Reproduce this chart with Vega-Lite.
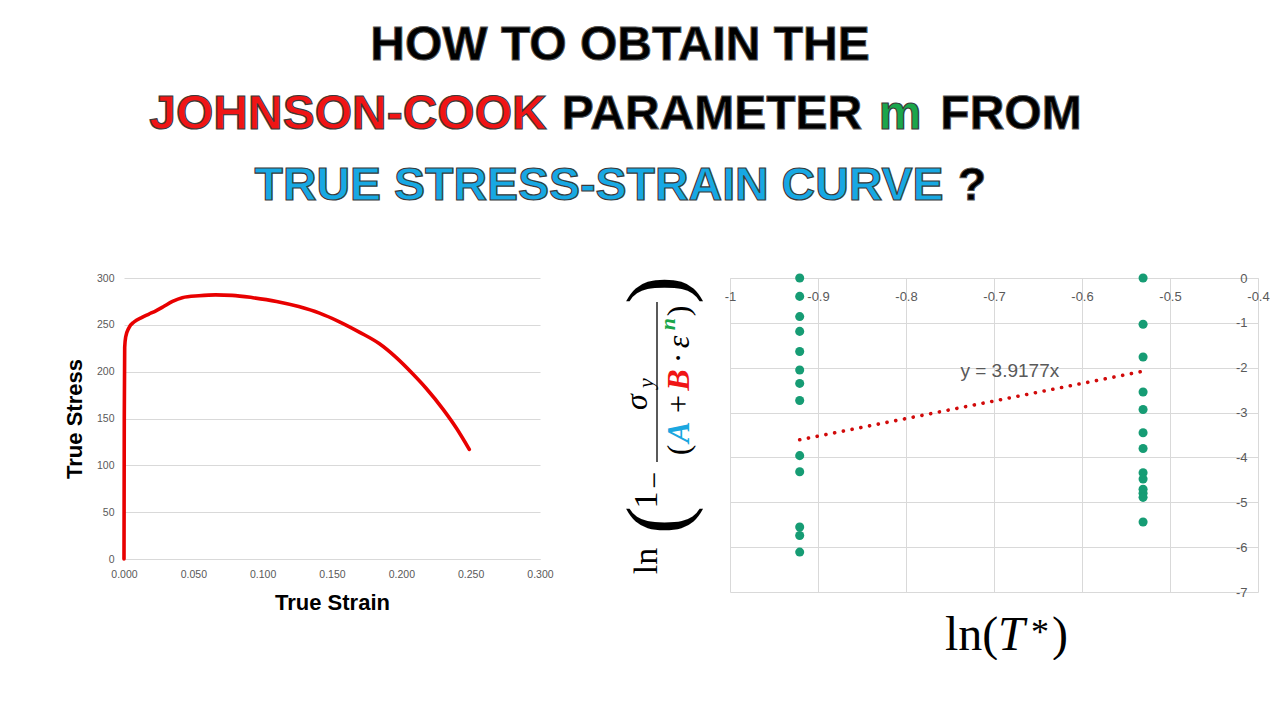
{
  "$schema": "https://vega.github.io/schema/vega-lite/v6.json",
  "background": "white",
  "padding": {"left": 63, "top": 22, "right": 0, "bottom": 0},
  "spacing": 190,
  "bounds": "flush",
  "config": {
    "view": {"stroke": null},
    "font": "Liberation Sans",
    "axis": {"labelFont": "Liberation Sans", "titleFont": "Liberation Sans"}
  },
  "hconcat": [
    {
      "width": 416,
      "height": 281,
      "layer": [
        {
          "data": {"values": [
            {"strain": 0, "stress": 0},
            {"strain": 0.0002, "stress": 150},
            {"strain": 0.0005, "stress": 226},
            {"strain": 0.0012, "stress": 237},
            {"strain": 0.0036, "stress": 247},
            {"strain": 0.0072, "stress": 253},
            {"strain": 0.013, "stress": 258},
            {"strain": 0.018, "stress": 261.5},
            {"strain": 0.023, "stress": 265},
            {"strain": 0.028, "stress": 269},
            {"strain": 0.035, "stress": 275},
            {"strain": 0.042, "stress": 279},
            {"strain": 0.054, "stress": 281},
            {"strain": 0.066, "stress": 282},
            {"strain": 0.078, "stress": 281.5},
            {"strain": 0.093, "stress": 279},
            {"strain": 0.110, "stress": 275},
            {"strain": 0.126, "stress": 269.5},
            {"strain": 0.141, "stress": 262.5},
            {"strain": 0.155, "stress": 253.5},
            {"strain": 0.170, "stress": 242},
            {"strain": 0.184, "stress": 230},
            {"strain": 0.196, "stress": 215.5},
            {"strain": 0.208, "stress": 198},
            {"strain": 0.218, "stress": 182},
            {"strain": 0.230, "stress": 160},
            {"strain": 0.240, "stress": 139},
            {"strain": 0.249, "stress": 117}
          ]},
          "mark": {"type": "line", "color": "#e80000", "strokeWidth": 3.6, "strokeCap": "round", "strokeJoin": "round", "interpolate": "monotone"},
          "encoding": {
            "x": {
              "field": "strain", "type": "quantitative",
              "scale": {"domain": [0, 0.3], "nice": false},
              "axis": {
                "values": [0, 0.05, 0.1, 0.15, 0.2, 0.25, 0.3], "format": ".3f",
                "title": "True Strain", "grid": false, "ticks": false, "tickSize": 0,
                "domain": true, "domainColor": "#d9d9d9", "domainWidth": 1,
                "labelColor": "#595959", "labelFontSize": 10.5, "labelPadding": 10,
                "labelOverlap": false, "labelFlush": false,
                "titleFontSize": 22, "titleFontWeight": "bold", "titleColor": "#000000", "titlePadding": 13
              }
            },
            "y": {
              "field": "stress", "type": "quantitative",
              "scale": {"domain": [0, 300], "nice": false},
              "axis": {
                "values": [0, 50, 100, 150, 200, 250, 300],
                "title": "True Stress", "grid": true, "gridColor": "#d9d9d9", "ticks": false, "tickSize": 0,
                "domain": false,
                "labelColor": "#595959", "labelFontSize": 10.5, "labelPadding": 10,
                "titleFontSize": 22, "titleFontWeight": "bold", "titleColor": "#000000", "titlePadding": 10
              }
            }
          }
        },
        {
          "data": {"values": [{"t": "HOW TO OBTAIN THE"}]},
          "mark": {"type": "text", "x": 496, "y": -218, "align": "center", "baseline": "alphabetic", "font": "Liberation Sans", "fontSize": 48, "fontWeight": "bold", "fill": "#000000", "stroke": "#555555", "strokeWidth": 1},
          "encoding": {"text": {"field": "t"}}
        },
        {
          "data": {"values": [{"t": "JOHNSON-COOK"}]},
          "mark": {"type": "text", "x": 224, "y": -149, "align": "center", "baseline": "alphabetic", "font": "Liberation Sans", "fontSize": 48, "fontWeight": "bold", "fill": "#f01515", "stroke": "#3a3a3a", "strokeWidth": 1.2},
          "encoding": {"text": {"field": "t"}}
        },
        {
          "data": {"values": [{"t": "PARAMETER"}]},
          "mark": {"type": "text", "x": 588, "y": -149, "align": "center", "baseline": "alphabetic", "font": "Liberation Sans", "fontSize": 48, "fontWeight": "bold", "fill": "#000000", "stroke": "#555555", "strokeWidth": 1},
          "encoding": {"text": {"field": "t"}}
        },
        {
          "data": {"values": [{"t": "m"}]},
          "mark": {"type": "text", "x": 776, "y": -149, "align": "center", "baseline": "alphabetic", "font": "Liberation Sans", "fontSize": 48, "fontWeight": "bold", "fill": "#1aa64b", "stroke": "#3a3a3a", "strokeWidth": 1.2},
          "encoding": {"text": {"field": "t"}}
        },
        {
          "data": {"values": [{"t": "FROM"}]},
          "mark": {"type": "text", "x": 887, "y": -149, "align": "center", "baseline": "alphabetic", "font": "Liberation Sans", "fontSize": 48, "fontWeight": "bold", "fill": "#000000", "stroke": "#555555", "strokeWidth": 1},
          "encoding": {"text": {"field": "t"}}
        },
        {
          "data": {"values": [{"t": "TRUE STRESS-STRAIN CURVE"}]},
          "mark": {"type": "text", "x": 475, "y": -78, "align": "center", "baseline": "alphabetic", "font": "Liberation Sans", "fontSize": 46.5, "fontWeight": "bold", "fill": "#17a8e3", "stroke": "#3a3a3a", "strokeWidth": 1.2},
          "encoding": {"text": {"field": "t"}}
        },
        {
          "data": {"values": [{"t": "?"}]},
          "mark": {"type": "text", "x": 848, "y": -78, "align": "center", "baseline": "alphabetic", "font": "Liberation Sans", "fontSize": 46.5, "fontWeight": "bold", "fill": "#000000", "stroke": "#555555", "strokeWidth": 1},
          "encoding": {"text": {"field": "t"}}
        }
      ]
    },
    {
      "width": 528,
      "height": 314,
      "layer": [
        {
          "data": {"values": [
            {"x": -0.9208, "y": 0},
            {"x": -0.9208, "y": -0.41},
            {"x": -0.9208, "y": -0.86},
            {"x": -0.9208, "y": -1.19},
            {"x": -0.9208, "y": -1.64},
            {"x": -0.9208, "y": -2.05},
            {"x": -0.9208, "y": -2.35},
            {"x": -0.9208, "y": -2.73},
            {"x": -0.9208, "y": -3.96},
            {"x": -0.9208, "y": -4.32},
            {"x": -0.9208, "y": -5.55},
            {"x": -0.9208, "y": -5.74},
            {"x": -0.9208, "y": -6.11},
            {"x": -0.5306, "y": 0},
            {"x": -0.5306, "y": -1.03},
            {"x": -0.5306, "y": -1.76},
            {"x": -0.5306, "y": -2.54},
            {"x": -0.5306, "y": -2.93},
            {"x": -0.5306, "y": -3.45},
            {"x": -0.5306, "y": -3.80},
            {"x": -0.5306, "y": -4.34},
            {"x": -0.5306, "y": -4.48},
            {"x": -0.5306, "y": -4.71},
            {"x": -0.5306, "y": -4.80},
            {"x": -0.5306, "y": -4.89},
            {"x": -0.5306, "y": -5.44}
          ]},
          "mark": {"type": "circle", "size": 82, "color": "#169c74", "opacity": 1},
          "encoding": {
            "x": {
              "field": "x", "type": "quantitative",
              "scale": {"domain": [-1, -0.4], "nice": false, "zero": false},
              "axis": {
                "orient": "top", "values": [-1, -0.9, -0.8, -0.7, -0.6, -0.5, -0.4],
                "labelExpr": "datum.value < 0 ? '-' + format(-datum.value, '.1~f') : '0'",
                "title": null, "grid": true, "gridColor": "#d9d9d9", "ticks": false, "tickSize": 0,
                "domain": true, "domainColor": "#d9d9d9",
                "labelColor": "#595959", "labelFontSize": 13, "labelPadding": -18, "labelBaseline": "middle",
                "labelOverlap": false, "labelFlush": false
              }
            },
            "y": {
              "field": "y", "type": "quantitative",
              "scale": {"domain": [-7, 0], "nice": false, "zero": false},
              "axis": {
                "orient": "right", "values": [0, -1, -2, -3, -4, -5, -6, -7],
                "labelExpr": "datum.value < 0 ? '-' + format(-datum.value, '~g') : '0'",
                "title": null, "grid": true, "gridColor": "#d9d9d9", "ticks": false, "tickSize": 0,
                "domain": false,
                "labelColor": "#595959", "labelFontSize": 13, "labelPadding": -11, "labelAlign": "right",
                "labelBaseline": "middle", "labelOverlap": false, "labelFlush": false
              }
            }
          }
        },
        {
          "data": {"values": [
            {"x": -0.9208, "y": -3.607},
            {"x": -0.5306, "y": -2.079}
          ]},
          "mark": {"type": "line", "color": "#d10a0a", "strokeWidth": 3.6, "strokeCap": "round", "strokeDash": [0.1, 8.8]},
          "encoding": {
            "x": {
              "field": "x", "type": "quantitative",
              "scale": {"domain": [-1, -0.4], "nice": false, "zero": false},
              "axis": {
                "orient": "top", "values": [-1, -0.9, -0.8, -0.7, -0.6, -0.5, -0.4],
                "labelExpr": "datum.value < 0 ? '-' + format(-datum.value, '.1~f') : '0'",
                "title": null, "grid": true, "gridColor": "#d9d9d9", "ticks": false, "tickSize": 0,
                "domain": true, "domainColor": "#d9d9d9",
                "labelColor": "#595959", "labelFontSize": 13, "labelPadding": -18, "labelBaseline": "middle",
                "labelOverlap": false, "labelFlush": false
              }
            },
            "y": {
              "field": "y", "type": "quantitative",
              "scale": {"domain": [-7, 0], "nice": false, "zero": false},
              "axis": {
                "orient": "right", "values": [0, -1, -2, -3, -4, -5, -6, -7],
                "labelExpr": "datum.value < 0 ? '-' + format(-datum.value, '~g') : '0'",
                "title": null, "grid": true, "gridColor": "#d9d9d9", "ticks": false, "tickSize": 0,
                "domain": false,
                "labelColor": "#595959", "labelFontSize": 13, "labelPadding": -11, "labelAlign": "right",
                "labelBaseline": "middle", "labelOverlap": false, "labelFlush": false
              }
            }
          }
        },
        {
          "data": {"values": [{"x": -0.682, "y": -2.07, "t": "y = 3.9177x"}]},
          "mark": {"type": "text", "align": "center", "baseline": "middle", "fontSize": 19, "color": "#595959", "font": "Liberation Sans"},
          "encoding": {
            "x": {
              "field": "x", "type": "quantitative",
              "scale": {"domain": [-1, -0.4], "nice": false, "zero": false},
              "axis": {
                "orient": "top", "values": [-1, -0.9, -0.8, -0.7, -0.6, -0.5, -0.4],
                "labelExpr": "datum.value < 0 ? '-' + format(-datum.value, '.1~f') : '0'",
                "title": null, "grid": true, "gridColor": "#d9d9d9", "ticks": false, "tickSize": 0,
                "domain": true, "domainColor": "#d9d9d9",
                "labelColor": "#595959", "labelFontSize": 13, "labelPadding": -18, "labelBaseline": "middle",
                "labelOverlap": false, "labelFlush": false
              }
            },
            "y": {
              "field": "y", "type": "quantitative",
              "scale": {"domain": [-7, 0], "nice": false, "zero": false},
              "axis": {
                "orient": "right", "values": [0, -1, -2, -3, -4, -5, -6, -7],
                "labelExpr": "datum.value < 0 ? '-' + format(-datum.value, '~g') : '0'",
                "title": null, "grid": true, "gridColor": "#d9d9d9", "ticks": false, "tickSize": 0,
                "domain": false,
                "labelColor": "#595959", "labelFontSize": 13, "labelPadding": -11, "labelAlign": "right",
                "labelBaseline": "middle", "labelOverlap": false, "labelFlush": false
              }
            },
            "text": {"field": "t"}
          }
        },
        {
          "data": {"values": [{"t": "ln("}]},
          "mark": {"type": "text", "x": 215, "y": 372, "align": "left", "baseline": "alphabetic", "font": "Liberation Serif", "fontSize": 48, "color": "#000000"},
          "encoding": {"text": {"field": "t"}}
        },
        {
          "data": {"values": [{"t": "T"}]},
          "mark": {"type": "text", "x": 268, "y": 372, "align": "left", "baseline": "alphabetic", "font": "Liberation Serif", "fontSize": 48, "fontStyle": "italic", "color": "#000000"},
          "encoding": {"text": {"field": "t"}}
        },
        {
          "data": {"values": [{"t": "*"}]},
          "mark": {"type": "text", "x": 301, "y": 366, "align": "left", "baseline": "alphabetic", "font": "Liberation Serif", "fontSize": 36, "color": "#000000"},
          "encoding": {"text": {"field": "t"}}
        },
        {
          "data": {"values": [{"t": ")"}]},
          "mark": {"type": "text", "x": 322, "y": 372, "align": "left", "baseline": "alphabetic", "font": "Liberation Serif", "fontSize": 48, "color": "#000000"},
          "encoding": {"text": {"field": "t"}}
        },
        {
          "data": {"values": [{"t": "("}]},
          "mark": {"type": "text", "x": -70, "y": 242, "angle": 270, "align": "center", "baseline": "middle", "font": "Liberation Serif", "fontSize": 84, "color": "#000000"},
          "encoding": {"text": {"field": "t"}}
        },
        {
          "data": {"values": [{"t": ")"}]},
          "mark": {"type": "text", "x": -70, "y": 12, "angle": 270, "align": "center", "baseline": "middle", "font": "Liberation Serif", "fontSize": 84, "color": "#000000"},
          "encoding": {"text": {"field": "t"}}
        },
        {
          "data": {"values": [{"t": "ln"}]},
          "mark": {"type": "text", "x": -73, "y": 283, "angle": 270, "align": "center", "baseline": "alphabetic", "font": "Liberation Serif", "fontSize": 34, "color": "#000000"},
          "encoding": {"text": {"field": "t"}}
        },
        {
          "data": {"values": [{"t": "1"}]},
          "mark": {"type": "text", "x": -73, "y": 222, "angle": 270, "align": "center", "baseline": "alphabetic", "font": "Liberation Serif", "fontSize": 34, "color": "#000000"},
          "encoding": {"text": {"field": "t"}}
        },
        {
          "data": {"values": [{"t": "−"}]},
          "mark": {"type": "text", "x": -75, "y": 202, "angle": 270, "align": "center", "baseline": "middle", "font": "Liberation Serif", "fontSize": 30, "color": "#000000"},
          "encoding": {"text": {"field": "t"}}
        },
        {
          "data": {"values": [{"t": "bar"}]},
          "mark": {"type": "rule", "color": "#000000", "strokeWidth": 1.3},
          "encoding": {
            "x": {"value": -73},
            "y": {"value": 24},
            "y2": {"value": 184}
          }
        },
        {
          "data": {"values": [{"t": "σ"}]},
          "mark": {"type": "text", "x": -93, "y": 124, "angle": 270, "align": "center", "baseline": "middle", "font": "Liberation Serif", "fontSize": 32, "fontStyle": "italic", "color": "#000000"},
          "encoding": {"text": {"field": "t"}}
        },
        {
          "data": {"values": [{"t": "y"}]},
          "mark": {"type": "text", "x": -84, "y": 105, "angle": 270, "align": "center", "baseline": "middle", "font": "Liberation Serif", "fontSize": 22, "fontStyle": "italic", "color": "#000000"},
          "encoding": {"text": {"field": "t"}}
        },
        {
          "data": {"values": [{"t": "("}]},
          "mark": {"type": "text", "x": -51, "y": 172, "angle": 270, "align": "center", "baseline": "middle", "font": "Liberation Serif", "fontSize": 32, "color": "#000000"},
          "encoding": {"text": {"field": "t"}}
        },
        {
          "data": {"values": [{"t": "A"}]},
          "mark": {"type": "text", "x": -51, "y": 154, "angle": 270, "align": "center", "baseline": "middle", "font": "Liberation Serif", "fontSize": 32, "fontStyle": "italic", "fontWeight": "bold", "color": "#1aa7e0"},
          "encoding": {"text": {"field": "t"}}
        },
        {
          "data": {"values": [{"t": "+"}]},
          "mark": {"type": "text", "x": -51, "y": 126, "angle": 270, "align": "center", "baseline": "middle", "font": "Liberation Serif", "fontSize": 32, "color": "#000000"},
          "encoding": {"text": {"field": "t"}}
        },
        {
          "data": {"values": [{"t": "B"}]},
          "mark": {"type": "text", "x": -51, "y": 102, "angle": 270, "align": "center", "baseline": "middle", "font": "Liberation Serif", "fontSize": 32, "fontStyle": "italic", "fontWeight": "bold", "color": "#f01515"},
          "encoding": {"text": {"field": "t"}}
        },
        {
          "data": {"values": [{"t": "·"}]},
          "mark": {"type": "text", "x": -51, "y": 80, "angle": 270, "align": "center", "baseline": "middle", "font": "Liberation Serif", "fontSize": 32, "color": "#000000"},
          "encoding": {"text": {"field": "t"}}
        },
        {
          "data": {"values": [{"t": "ε"}]},
          "mark": {"type": "text", "x": -51, "y": 64, "angle": 270, "align": "center", "baseline": "middle", "font": "Liberation Serif", "fontSize": 32, "fontStyle": "italic", "color": "#000000"},
          "encoding": {"text": {"field": "t"}}
        },
        {
          "data": {"values": [{"t": "n"}]},
          "mark": {"type": "text", "x": -62, "y": 46, "angle": 270, "align": "center", "baseline": "middle", "font": "Liberation Serif", "fontSize": 22, "fontStyle": "italic", "fontWeight": "bold", "color": "#1aa64b"},
          "encoding": {"text": {"field": "t"}}
        },
        {
          "data": {"values": [{"t": ")"}]},
          "mark": {"type": "text", "x": -51, "y": 33, "angle": 270, "align": "center", "baseline": "middle", "font": "Liberation Serif", "fontSize": 32, "color": "#000000"},
          "encoding": {"text": {"field": "t"}}
        }
      ]
    }
  ]
}
